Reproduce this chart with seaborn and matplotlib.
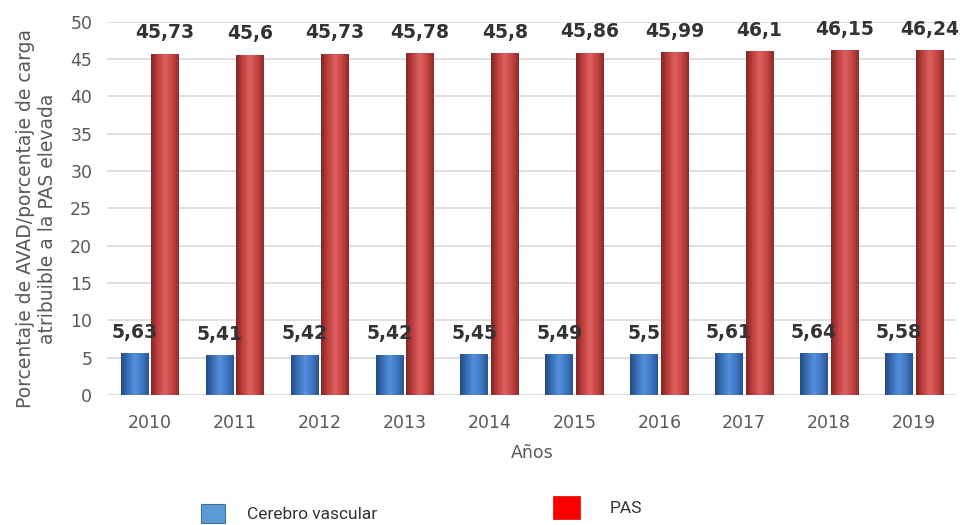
import matplotlib
matplotlib.use("Agg")
import matplotlib.pyplot as plt
import seaborn as sns
import pandas as pd
import numpy as np
from matplotlib.patches import Patch
from matplotlib.colors import LinearSegmentedColormap

years = ["2010", "2011", "2012", "2013", "2014", "2015", "2016", "2017", "2018", "2019"]
cerebro = [5.63, 5.41, 5.42, 5.42, 5.45, 5.49, 5.50, 5.61, 5.64, 5.58]
pas = [45.73, 45.6, 45.73, 45.78, 45.8, 45.86, 45.99, 46.1, 46.15, 46.24]
cerebro_labels = ["5,63", "5,41", "5,42", "5,42", "5,45", "5,49", "5,5", "5,61", "5,64", "5,58"]
pas_labels = ["45,73", "45,6", "45,73", "45,78", "45,8", "45,86", "45,99", "46,1", "46,15", "46,24"]
series = ["Cerebro vascular", "PAS"]

df = pd.DataFrame({
    "year": years * 2,
    "value": cerebro + pas,
    "serie": [series[0]] * len(years) + [series[1]] * len(years),
})

sns.set_theme(style="white")
plt.rcParams["font.family"] = ["DejaVu Sans"]

fig = plt.figure(figsize=(9.64, 5.25), dpi=100)
ax = fig.add_axes([0.1115, 0.2476, 0.8807, 0.7111])

bar_colors = {"Cerebro vascular": "#3F77C0", "PAS": "#CF4745"}
sns.barplot(data=df, x="year", y="value", hue="serie", palette=bar_colors,
            width=0.72, gap=0.1, ax=ax, legend=False, saturation=1,
            linewidth=0)

# cylinder-like shading
cmaps = [
    LinearSegmentedColormap.from_list("b", ["#234a80", "#3a70b8", "#5590dc", "#4078c4", "#2a5490"]),
    LinearSegmentedColormap.from_list("r", ["#7e2624", "#c0403e", "#dc6260", "#c84442", "#8a2c2a"]),
]
grad = np.linspace(0, 1, 256).reshape(1, -1)
n = len(years)
for i, p in enumerate(list(ax.patches)):
    cm = cmaps[0] if i < n else cmaps[1]
    x0, y0 = p.get_x(), p.get_y()
    w, h = p.get_width(), p.get_height()
    im = ax.imshow(grad, cmap=cm, extent=[x0, x0 + w, y0, y0 + h], aspect="auto",
                   zorder=p.get_zorder() + 0.1, interpolation="bicubic")
    im.set_clip_path(p)

ax.set_ylim(0, 50)
ax.set_xlim(-0.5, len(years) - 0.5)
ax.set_yticks(range(0, 51, 5))
ax.yaxis.grid(True, color="#D9D9D9", linewidth=1.2)
ax.set_axisbelow(True)
for s in ax.spines.values():
    s.set_visible(False)
ax.tick_params(axis="both", length=0, labelsize=12.5, colors="#595959")
ax.tick_params(axis="x", pad=14)
ax.tick_params(axis="y", pad=11)

ax.set_xlabel("Años", fontsize=12.5, color="#595959", labelpad=8)
ax.set_ylabel("Porcentaje de AVAD/porcentaje de carga\natribuible a la PAS elevada",
              fontsize=13.5, color="#595959", linespacing=1.15)
ax.yaxis.set_label_coords(-0.060, 0.472)

for cont, labs in zip(ax.containers, [cerebro_labels, pas_labels]):
    ax.bar_label(cont, labels=labs, padding=8, fontsize=13.5, fontweight="bold",
                 color="#333333")

leg_font = {"family": "Roboto", "size": 12.5}
h_blue = [Patch(facecolor="#5B9BD5", edgecolor="#41719C", linewidth=0.8)]
h_red = [Patch(facecolor="#FF0000", edgecolor="#E00000", linewidth=0.5)]
fig.legend(h_blue, [series[0]], loc="lower left", bbox_to_anchor=(0.2, -0.012),
           frameon=False, handlelength=1.35, handleheight=1.25, handletextpad=1.25,
           borderpad=0, prop=leg_font, labelcolor="#333333")
fig.legend(h_red, [series[1]], loc="lower left", bbox_to_anchor=(0.565, -0.005),
           frameon=False, handlelength=1.55, handleheight=1.65, handletextpad=1.7,
           borderpad=0, prop=leg_font, labelcolor="#333333")

fig.savefig("out.png", dpi=100)
